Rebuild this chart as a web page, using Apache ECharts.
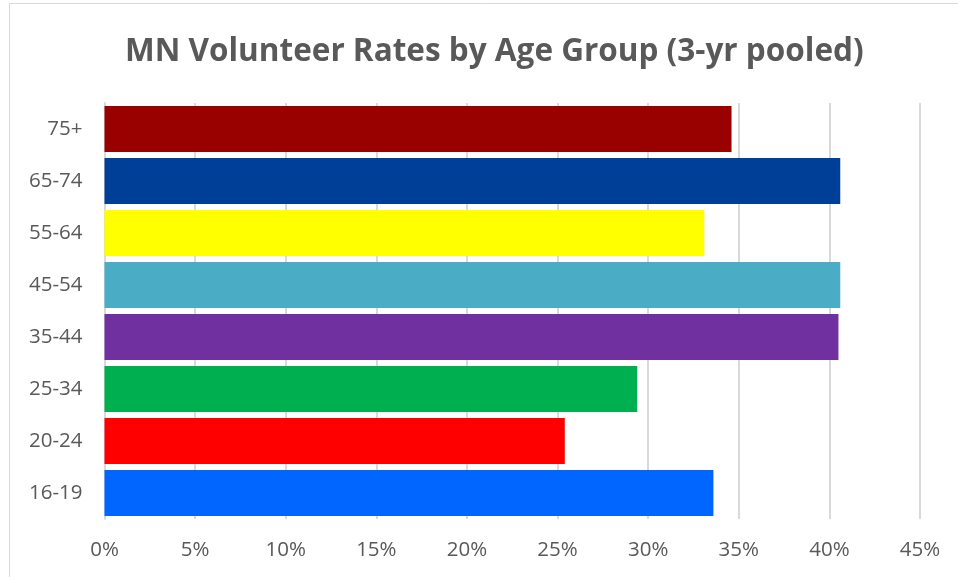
<!DOCTYPE html>
<html><head><meta charset="utf-8">
<script src="https://cdn.jsdelivr.net/npm/echarts@6/dist/echarts.min.js"></script>
<style>html,body{margin:0;padding:0;background:#fff}#c{width:958px;height:577px}</style>
</head><body><div id="c"></div>
<script>
const categories = ['16-19','20-24','25-34','35-44','45-54','55-64','65-74','75+'];
const rates = [33.6, 25.4, 29.4, 40.5, 40.6, 33.1, 40.6, 34.6];
const barColors = ['#0066ff','#ff0000','#00b050','#7030a0','#4bacc6','#ffff00','#003f98','#990000'];
const xTicks = [0,5,10,15,20,25,30,35,40,45];

const chart = echarts.init(document.getElementById('c'));
chart.setOption({
  animation:false,
  graphic:[{type:'rect',shape:{x:9.5,y:3.5,width:960,height:600},style:{fill:'none',stroke:'#d9d9d9',lineWidth:1},silent:true}],
  title:{text:'MN Volunteer Rates by Age Group (3-yr pooled)',left:120,top:31,
    textStyle:{fontFamily:'Open Sans',fontSize:31.5,fontWeight:'bold',color:'#595959'}},
  grid:{left:104.5,right:38,top:103,bottom:58},
  xAxis:{type:'value',min:0,max:45,interval:5,
    axisLabel:{formatter:v=>v+'%',fontFamily:'Open Sans',fontSize:20.5,color:'#595959',margin:21},
    splitLine:{lineStyle:{color:'#d9d9d9',width:2}},axisLine:{show:false},axisTick:{show:false}},
  yAxis:{type:'category',data:categories,
    axisLabel:{fontFamily:'Open Sans',fontSize:20.5,color:'#595959',margin:22},
    axisLine:{lineStyle:{color:'#d9d9d9',width:2}},axisTick:{show:false}},
  series:[{type:'bar',data:rates.map((v,i)=>({value:v,itemStyle:{color:barColors[i]}})),barCategoryGap:'12%'}]
});
</script></body></html>
